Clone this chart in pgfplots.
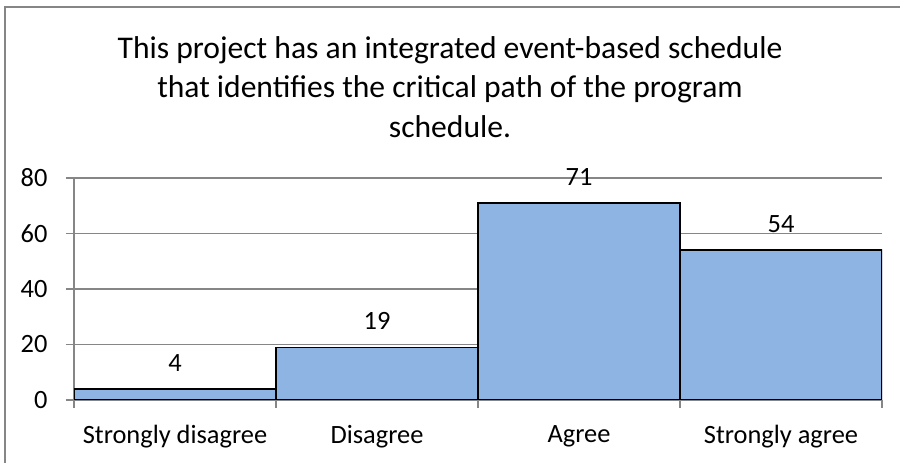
\documentclass[border=0pt]{standalone}
\usepackage{pgfplots}
\pgfplotsset{compat=1.18}
\usepackage{fontspec}
\setmainfont{Carlito}
\definecolor{barblue}{RGB}{142,180,227}
\definecolor{axgray}{RGB}{134,134,134}
\begin{document}
\begin{tikzpicture}[x=1bp,y=1bp]
\useasboundingbox (0,0) rectangle (900,463);
\draw[axgray, line width=1.3bp] (5,-5) -- (5,456) -- (905,456);
\node[align=center, font=\fontsize{31.7}{39.5}\selectfont] at (450,376) {This project has an integrated event-based schedule\\that identifies the critical path of the program\\schedule.};
\begin{axis}[at={(74bp,63bp)}, anchor=south west, scale only axis,
  width=808bp, height=222bp,
  xmin=-0.5, xmax=3.5, ymin=0, ymax=80,
  /pgf/number format/assume math mode=true,
  ytick={0,20,40,60,80},
  xtick={-0.5,0.5,1.5,2.5,3.5}, xticklabels={},
  extra x ticks={0,1,2,3},
  extra x tick labels={Strongly disagree, Disagree, Agree, Strongly agree},
  extra x tick style={major tick length=0pt, grid=none},
  axis x line*=bottom, axis y line*=left,
  axis line style={axgray, line width=1.2bp, -},
  ymajorgrids, grid style={axgray, line width=1.2bp},
  tick style={axgray, line width=1.2bp},
  tick align=outside, major tick length=8bp,
  ticklabel style={font=\fontsize{26.5}{30}\selectfont, text=black},
  xticklabel style={yshift=-22bp},
  yticklabel style={xshift=-15bp},
  ybar, bar width=1,
  nodes near coords,
  nodes near coords style={font=\fontsize{26.5}{30}\selectfont, anchor=center, yshift=26bp, text=black},
]
\addplot[fill=barblue, draw=black, line width=1.4bp] coordinates {(0,4) (1,19) (2,71) (3,54)};
\end{axis}
\end{tikzpicture}
\end{document}
